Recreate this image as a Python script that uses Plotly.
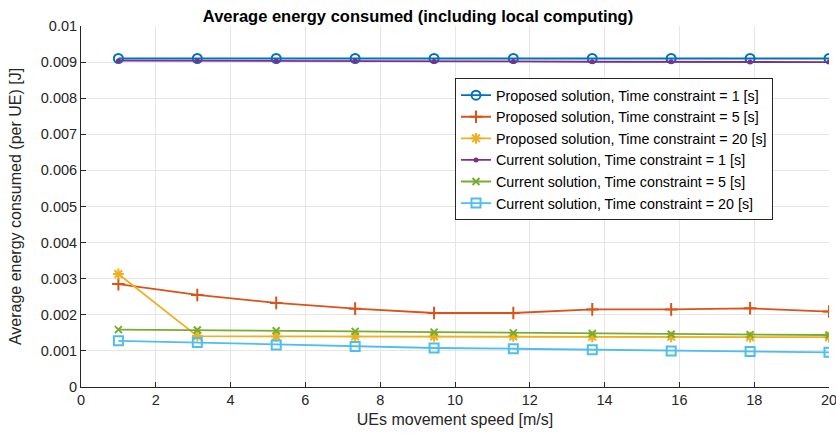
import plotly.graph_objects as go

# UE movement speed [m/s]
speed = [1, 3.11, 5.22, 7.33, 9.44, 11.56, 13.67, 15.78, 17.89, 20]

# Average energy consumed per UE [J]
proposed_t1 = [0.00910, 0.00910, 0.00910, 0.00910, 0.00910, 0.00910, 0.00910, 0.00910, 0.00910, 0.00910]
proposed_t5 = [0.00285, 0.00255, 0.00233, 0.00217, 0.00205, 0.00205, 0.00215, 0.00215, 0.00218, 0.00209]
proposed_t20 = [0.00313, 0.00141, 0.00140, 0.00140, 0.00140, 0.00140, 0.00139, 0.00139, 0.00138, 0.00138]
current_t1 = [0.00904, 0.00904, 0.00903, 0.00903, 0.00902, 0.00902, 0.00901, 0.00901, 0.00900, 0.00900]
current_t5 = [0.00159, 0.00158, 0.00156, 0.00154, 0.00152, 0.00150, 0.00148, 0.00146, 0.00145, 0.00144]
current_t20 = [0.00128, 0.00123, 0.00116, 0.00112, 0.00108, 0.00106, 0.00103, 0.00100, 0.00098, 0.00096]

y_tick_vals = [0, 0.001, 0.002, 0.003, 0.004, 0.005, 0.006, 0.007, 0.008, 0.009, 0.01]
y_tick_text = ["0", "0.001", "0.002", "0.003", "0.004", "0.005", "0.006", "0.007", "0.008", "0.009", "0.01"]
x_tick_vals = [0, 2, 4, 6, 8, 10, 12, 14, 16, 18, 20]

series = [
    ("Proposed solution, Time constraint = 1 [s]", proposed_t1, "#0072BD", "circle-open", 9),
    ("Proposed solution, Time constraint = 5 [s]", proposed_t5, "#D95319", "cross-thin-open", 9),
    ("Proposed solution, Time constraint = 20 [s]", proposed_t20, "#EDB120", "asterisk-open", 9),
    ("Current solution, Time constraint = 1 [s]", current_t1, "#7E2F8E", "circle", 3),
    ("Current solution, Time constraint = 5 [s]", current_t5, "#77AC30", "x-thin-open", 7),
    ("Current solution, Time constraint = 20 [s]", current_t20, "#4DBEEE", "square-open", 9),
]

fig = go.Figure()
for name, vals, color, symbol, size in series:
    fig.add_trace(go.Scatter(
        x=speed, y=vals, name=name, mode="lines+markers",
        line=dict(color=color, width=1.8),
        marker=dict(symbol=symbol, size=size, color=color,
                    line=dict(color=color, width=2)),
    ))

family = "Liberation Sans, Arial, sans-serif"
tick_font = dict(family=family, size=14.5, color="#262626")
label_font = dict(family=family, size=16, color="#262626")

fig.update_layout(
    width=836, height=436,
    margin=dict(l=81, r=7, t=26, b=49),
    paper_bgcolor="white", plot_bgcolor="white",
    font=tick_font,
    title=dict(text="<b>Average energy consumed (including local computing)</b>",
               x=0.5, xanchor="center", y=0.963, yanchor="middle",
               font=dict(family=family, size=16.5, color="black")),
    legend=dict(x=0.5, y=0.855, xanchor="left", yanchor="top",
                bgcolor="white", bordercolor="#262626", borderwidth=1,
                font=dict(family=family, size=14.3, color="black"),
                tracegroupgap=0, itemwidth=30),
    showlegend=True,
)

fig.update_xaxes(
    range=[0, 20], tickvals=x_tick_vals, ticks="inside", ticklen=5, tickcolor="#262626",
    showline=True, linecolor="#262626", linewidth=1, ticklabeloverflow="allow",
    showgrid=True, gridcolor="#E6E6E6", gridwidth=1, zeroline=False,
    automargin=False,
    title=dict(text="UEs movement speed [m/s]", font=label_font, standoff=6),
    tickfont=tick_font,
)
fig.update_yaxes(
    range=[0, 0.01], tickvals=y_tick_vals, ticktext=y_tick_text,
    ticks="inside", ticklen=5, tickcolor="#262626",
    showline=True, linecolor="#262626", linewidth=1, ticklabeloverflow="allow",
    showgrid=True, gridcolor="#E6E6E6", gridwidth=1, zeroline=False,
    automargin=False,
    title=dict(text="Average energy consumed (per UE) [J]", font=label_font),
    tickfont=tick_font,
)

fig.write_html("out.html")
